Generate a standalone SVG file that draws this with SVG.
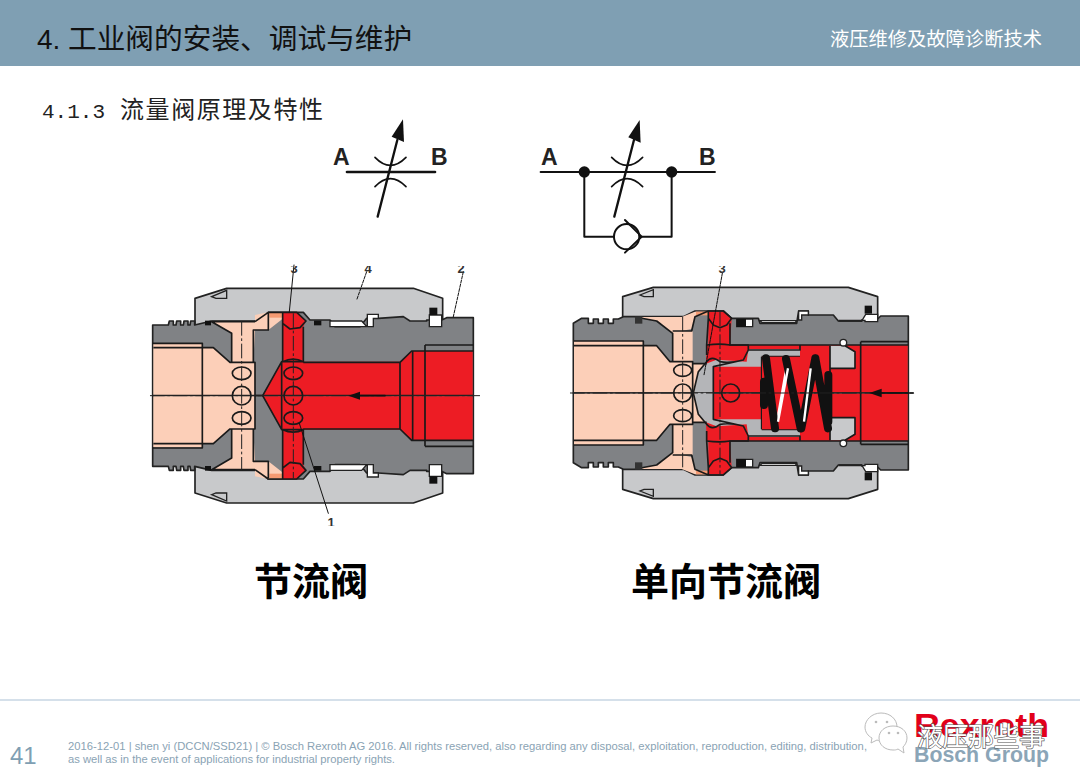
<svg xmlns="http://www.w3.org/2000/svg" xmlns:xlink="http://www.w3.org/1999/xlink" width="1080" height="781" viewBox="0 0 1080 781">
<style>
.cjk{font-family:"Noto Sans CJK SC","Noto Sans",sans-serif}
.lat{font-family:"Liberation Sans",Arial,sans-serif}
.sy{font-family:"Liberation Sans",Arial,sans-serif;font-weight:700;font-size:23px;fill:#222}
.pn{font-family:"Liberation Sans",Arial,sans-serif;font-size:13px;font-weight:700;fill:#333}
.k{fill:none;stroke:#111;stroke-linejoin:round;stroke-linecap:round}
.o{fill:none;stroke:#1a1a1a;stroke-width:5;stroke-linejoin:round}
.t{fill:none;stroke:#222;stroke-width:3;stroke-dasharray:44 8 8 8}
.sl{fill:#c8c9cb;stroke:#222;stroke-width:5;stroke-linejoin:round}
.bd{fill:#808285;stroke:#222;stroke-width:5;stroke-linejoin:round}
.pk{fill:#fccfb8}
.rd{fill:#ed1c24}
.w{fill:#fff;stroke:#222;stroke-width:4}
.fb{fill:#111}
.ft{font-family:"Liberation Sans",Arial,sans-serif;font-size:10.5px;fill:#8aa3b4}
</style>
<defs>
<clipPath id="cl"><rect x="280" y="266" width="640" height="260"/></clipPath>
</defs>
<rect width="1080" height="781" fill="#fff"/>
<g id="header">
<rect width="1080" height="66" fill="#7f9fb3"/>
<text x="37" y="49" class="lat" font-size="28" fill="#111">4.</text>
<text x="68" y="49" class="cjk" font-size="28.7" fill="#111">工业阀的安装、调试与维护</text>
<text x="1042" y="46" text-anchor="end" class="cjk" font-size="19.3" fill="#fff">液压维修及故障诊断技术</text>
</g>
<text id="subtitle" x="42" y="118" class="cjk" font-size="24" fill="#222" xml:space="preserve"><tspan font-family="'Liberation Mono',monospace" font-size="21">4.1.3 </tspan><tspan x="120" textLength="203">流量阀原理及特性</tspan></text>

<g id="symbol-throttle">
<text x="333" y="165" class="sy">A</text><text x="431" y="165" class="sy">B</text>
<g class="k" transform="translate(320 110) scale(.3333)">
<path d="M81 186H345" stroke-width="8"/>
<path d="M165 142Q211 190 258 142M165 230Q211 182 258 230" stroke-width="5"/>
<path d="M173 320L232 90" stroke-width="7"/>
<path d="M249 28L215 80L252 96Z" fill="#111" stroke="none"/>
</g>
</g>
<g id="symbol-check-throttle">
<text x="541" y="165" class="sy">A</text><text x="699" y="165" class="sy">B</text>
<g class="k" transform="translate(320 110) scale(.3333)">
<path d="M662 186H1185" stroke-width="6"/>
<circle cx="793" cy="186" r="17" fill="#111" stroke="none"/>
<circle cx="1055" cy="186" r="17" fill="#111" stroke="none"/>
<path d="M793 186V380H882M960 380H1055V186" stroke-width="6"/>
<circle cx="920" cy="380" r="38" stroke-width="6"/>
<path d="M915 330L965 380L915 428" stroke-width="6"/>
<path d="M875 142Q921 190 968 142M875 230Q921 182 968 230" stroke-width="5"/>
<path d="M883 320L942 90" stroke-width="7"/>
<path d="M959 30L925 82L962 98Z" fill="#111" stroke="none"/>
</g>
</g>

<g id="valve-throttle">
<g transform="translate(140 255) scale(.33333)">
<g id="v1half">
<path class="sl" d="M165 130L260 100H820L908 130V215H165Z"/>
<path d="M215 125L260 106V130H228Z" fill="#c8c9cb" stroke="#222" stroke-width="4"/>
<path class="bd" d="M38 210H85L88 198H100V210H108L110 198H122V210H130L132 198H144V210H150L152 198H164V210L215 198H345L385 172H490L510 195H570L585 215H660L680 190H715L790 185L810 198H860V195H905L920 188H1000V422H38Z"/>
<path class="pk" d="M40 267H187V279H220L270 322H275V235L215 200H345V180L385 172H430V190L385 225H345L340 322H345V420H40Z"/>
<path d="M388 173H428V188H388Z" fill="#f59a72"/>
<path class="rd" d="M428 172H470L498 198L490 215V320H780L815 288H998V420H368L425 320H428Z"/>
<path class="o" d="M38 265H187V422M40 278H220L270 322H345V422"/>
<path class="o" d="M275 322V235L215 200H345M340 322V225H345L385 225L385 175M345 200L385 172H470L498 198L480 218L450 222L428 205V172M428 205V320M490 215V322"/>
<path class="o" d="M368 422L425 320H490Q460 305 428 320M425 320V422M490 322H780L815 288H1000M780 322V422M818 288V422M855 270V422M855 270H1000"/>
<path d="M570 198H665L680 215H570ZM682 178H715V190H700V215H682ZM868 180H905V215H868Z" class="w"/>
<rect x="868" y="158" width="24" height="22" class="fb"/>
<rect x="195" y="197" width="18" height="14" class="fb"/>
<rect x="522" y="197" width="22" height="14" class="fb"/>
<ellipse cx="305" cy="355" rx="28" ry="19" class="o"/>
<ellipse cx="460" cy="355" rx="28" ry="19" class="o"/>
</g>
<use href="#v1half" xlink:href="#v1half" transform="translate(0 844) scale(1 -1)"/>
<circle cx="305" cy="422" r="28" class="o"/>
<circle cx="460" cy="422" r="28" class="o"/>
<path class="t" d="M30 422H1020M305 198V646M460 175V670"/>
<path d="M625 422L660 410V434Z" class="fb"/>
<path d="M650 422H735" class="k" stroke-width="5"/>
<path d="M462 30L448 170M478 505L565 775" class="k" stroke-width="3"/>
<path d="M680 50L650 135M970 50L940 185" class="k" stroke-width="3" stroke-dasharray="9 4"/>
</g>
<g clip-path="url(#cl)">
<text x="294" y="273" class="pn" text-anchor="middle">3</text>
<text x="368" y="273" class="pn" text-anchor="middle">4</text>
<text x="461" y="273" class="pn" text-anchor="middle">2</text>
<text x="331" y="527" class="pn" text-anchor="middle">1</text>
</g>
</g>

<g id="valve-check-throttle">
<g transform="translate(560 255) scale(.33333)">
<g id="v2half">
<path class="sl" d="M188 125L280 97H865L953 125V215H188Z"/>
<path d="M240 120L280 104V125H252Z" fill="#c8c9cb" stroke="#222" stroke-width="4"/>
<path class="bd" d="M40 205L65 190H85V205H100V192H115V205H130V192H145V205H160V192H175V192L190 185H370L405 168H490L515 190H595L600 205H710L716 168H745V180H820L835 198H905V195L950 195L962 183H1045V414H40Z"/>
<path class="pk" d="M42 258H250V272H290L330 320H338V235L290 198L225 186H365L405 170H445L405 185L395 222L365 228H338L395 322V412H42Z"/>
<path class="pk" d="M338 228H398V412H338Z"/>
<path d="M408 170H445V181H408Z" fill="#f59a72"/>
<path class="rd" d="M445 170H490L515 190L510 270H1043V412H460V335L438 325L440 270H445Z"/>
<path d="M398 326H438L470 314L560 320L565 282H720V305H605V335H460V414H398Z" fill="#b4b5b8"/>
<path d="M398 326H436L415 350L403 414H398Z" class="pk"/>
<path d="M810 272H855L885 292V340H810Z" fill="#c8c9cb"/>
<path class="o" d="M42 258H250V414M42 272H290L330 320H398V414M400 326H440M338 320V235L290 198L225 186M338 228H395L405 185L445 168H490L515 190L500 210L480 218L460 210L445 190V168M445 190L440 270V300M510 205V270H1045"/>
<path class="o" d="M440 270Q480 265 510 270H565V285H720V270M565 285L550 315Q510 325 480 320Q455 300 440 320L415 350L400 414M550 315L460 335V414M605 305H720M605 305V414M810 272V414M810 340H885V290L855 272M902 260V414M902 260H1045"/>
<path class="w" d="M530 192H578V215H530Z" stroke-width="3"/>
<rect x="530" y="192" width="28" height="24" class="fb"/>
<rect x="225" y="184" width="22" height="22" fill="#333"/>
<path class="w" d="M600 197H710L706 203H606ZM716 168H745V180H725V195H716ZM838 198H905L917 178H953V200H915V196H838Z" stroke-width="3"/>
<rect x="914" y="152" width="22" height="24" class="fb"/>
<circle cx="850" cy="263" r="10" fill="#fff" stroke="#222" stroke-width="4"/>
<ellipse cx="368" cy="346" rx="27" ry="18" class="o"/>
</g>
<use href="#v2half" xlink:href="#v2half" transform="translate(0 828) scale(1 -1)"/>
<circle cx="368" cy="414" r="27" class="o"/>
<circle cx="512" cy="414" r="27" class="o"/>
<g id="spring">
<path d="M606 305H720V523H606Z" class="rd"/>
<path d="M680 335L650 505M755 335L730 505" stroke="#fff" stroke-width="7" fill="none"/>
<path d="M618 310L645 520M678 312L722 520M766 310L804 520M766 310L724 520M612 380V450M805 360V500" class="k" stroke-width="24"/>
<path d="M684 340L654 500M752 340L732 500" stroke="#fff" stroke-width="7" fill="none"/>
</g>
<path class="t" d="M30 414H1060M368 185V640M480 170V660"/>
<path d="M928 414L965 401V427Z" class="fb"/>
<path d="M955 414H1060" class="k" stroke-width="5"/>
<path d="M487 55L432 360" class="k" stroke-width="3" stroke-dasharray="9 3"/>
</g>
<g clip-path="url(#cl)"><text x="722" y="273" class="pn" text-anchor="middle">3</text></g>
</g>

<text id="label-left" x="311" y="595" text-anchor="middle" class="cjk" font-size="38" font-weight="700" fill="#000">节流阀</text>
<text id="label-right" x="726" y="595" text-anchor="middle" class="cjk" font-size="38" font-weight="700" fill="#000">单向节流阀</text>

<g id="footer">
<rect x="0" y="699" width="1080" height="2" fill="#d5e0ea"/>
<text x="10" y="764" class="lat" font-size="24" fill="#7f9fb3">41</text>
<text x="68" y="750" class="ft" textLength="799" lengthAdjust="spacingAndGlyphs">2016-12-01 | shen yi (DCCN/SSD21) | © Bosch Rexroth AG 2016. All rights reserved, also regarding any disposal, exploitation, reproduction, editing, distribution,</text>
<text x="68" y="763" class="ft" textLength="327" lengthAdjust="spacingAndGlyphs">as well as in the event of applications for industrial property rights.</text>
</g>
<g id="logo">
<text x="914" y="737" class="lat" font-size="33" font-weight="700" fill="#e2001a" textLength="135" lengthAdjust="spacingAndGlyphs">Rexroth</text>
<text x="914" y="762" class="lat" font-size="22" font-weight="700" fill="#8ba5b7" textLength="135" lengthAdjust="spacingAndGlyphs">Bosch Group</text>
</g>
<g id="watermark">
<path d="M881 713c-9 0-16 7-16 14 0 5 3 9 7 11l-1 5 6-3c2 1 4 1 6 1 9 0 14-6 14-14s-7-14-16-14z" fill="#fff" stroke="#bbb" stroke-width="1"/>
<path d="M893 726c-8 0-14 5-14 12s6 12 14 12c2 0 3 0 5-1l6 4-1-6c2-2 4-5 4-9 0-7-6-12-14-12z" fill="#fff" stroke="#bbb" stroke-width="1"/>
<circle cx="876" cy="722" r="1.3" fill="#bbb"/><circle cx="887" cy="722" r="1.3" fill="#bbb"/>
<circle cx="889" cy="733" r="1.3" fill="#bbb"/><circle cx="898" cy="733" r="1.3" fill="#bbb"/>
<text x="917" y="746" class="cjk" font-size="26" fill="#fff" stroke="#555" stroke-width="1.2" paint-order="stroke" textLength="128">液压那些事</text>
</g>
</svg>
